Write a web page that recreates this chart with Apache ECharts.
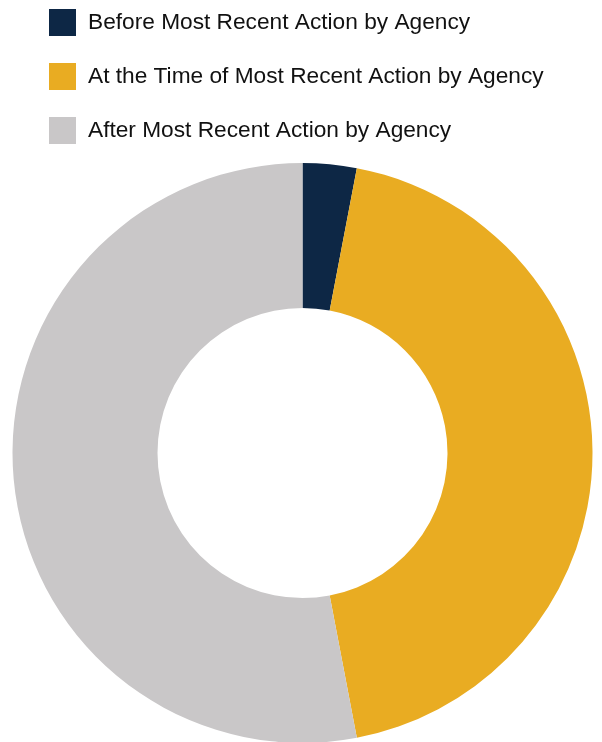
<!DOCTYPE html>
<html>
<head>
<meta charset="utf-8">
<script src="https://cdn.jsdelivr.net/npm/echarts@6/dist/echarts.min.js"></script>
<style>
  html, body { margin: 0; padding: 0; background: #fff; }
  #chart { width: 602px; height: 742px; }
</style>
</head>
<body>
<div id="chart"></div>
<script>
// Share of cases by timing relative to the agency's most recent action (%)
const categories = [
  'Before Most Recent Action by Agency',
  'At the Time of Most Recent Action by Agency',
  'After Most Recent Action by Agency'
];
const shares = [3, 44, 53];
const colors = ['#0d2745', '#e9ac22', '#c9c7c8'];

const chart = echarts.init(document.getElementById('chart'), null, { renderer: 'canvas' });

chart.setOption({
  animation: false,
  color: colors,
  legend: {
    orient: 'vertical',
    left: 44,
    top: 4,
    itemWidth: 27,
    itemHeight: 27,
    itemGap: 27,
    icon: 'rect',
    selectedMode: false,
    textStyle: {
      fontFamily: 'Liberation Sans, Arial, sans-serif',
      fontSize: 22.7,
      color: '#111111',
      padding: [0, 0, 0, 7]
    },
    data: categories
  },
  series: [{
    type: 'pie',
    center: [302.5, 453],
    radius: [145, 290],
    startAngle: 90,
    clockwise: true,
    label: { show: false },
    labelLine: { show: false },
    emphasis: { disabled: true },
    itemStyle: { borderWidth: 0 },
    data: categories.map((name, i) => ({ name, value: shares[i] }))
  }]
});
</script>
</body>
</html>
